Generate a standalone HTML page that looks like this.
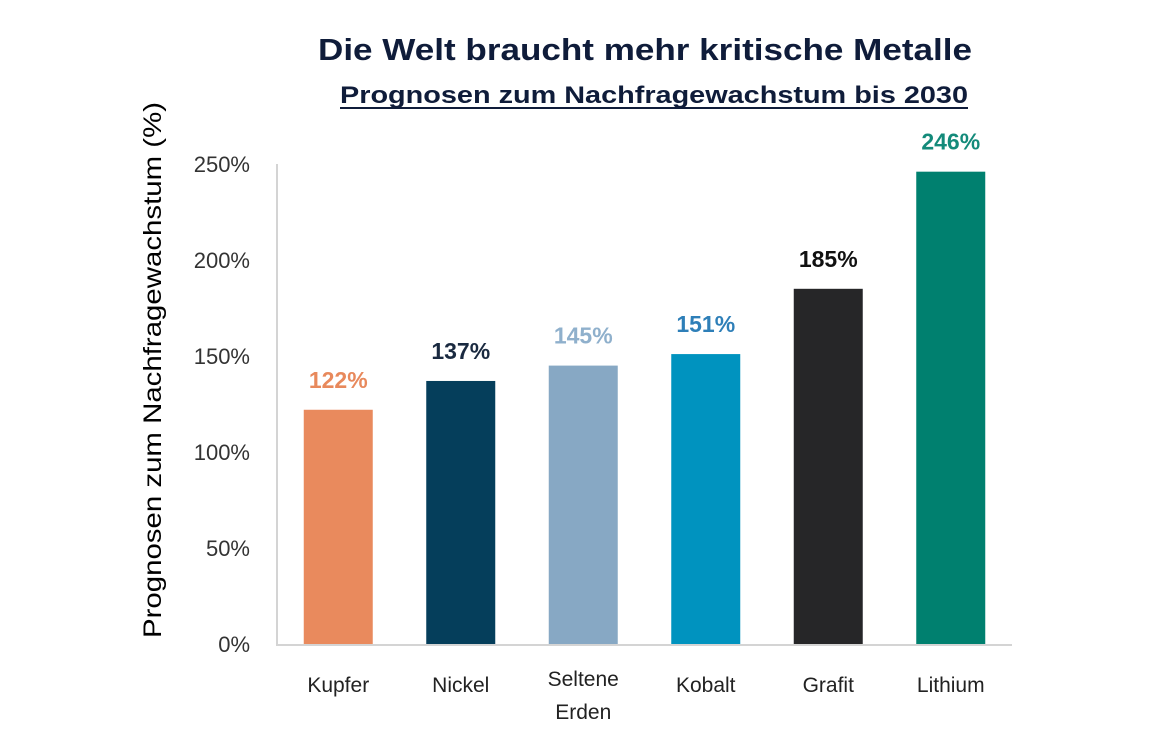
<!DOCTYPE html>
<html><head><meta charset="utf-8"><style>
body{margin:0;background:#fff;}
svg{display:block;font-family:"Liberation Sans",sans-serif;}
</style></head><body>
<svg id="chart" width="1166" height="747" viewBox="0 0 1166 747">
<text x="645" y="60" text-anchor="middle" font-size="31" font-weight="bold" fill="#0f1c3a" textLength="654" lengthAdjust="spacingAndGlyphs">Die Welt braucht mehr kritische Metalle</text>
<text x="654" y="103" text-anchor="middle" font-size="24" font-weight="bold" fill="#0f1c3a" textLength="628" lengthAdjust="spacingAndGlyphs">Prognosen zum Nachfragewachstum bis 2030</text>
<line x1="340" y1="108" x2="968" y2="108" stroke="#0f1c3a" stroke-width="2"/>
<text transform="translate(161,370) rotate(-90)" text-anchor="middle" font-size="25" fill="#000" textLength="536" lengthAdjust="spacingAndGlyphs">Prognosen zum Nachfragewachstum (%)</text>
<g id="yticks"></g>
<line x1="277" y1="164" x2="277" y2="645" stroke="#d4d4d4" stroke-width="2"/>
<line x1="276" y1="645" x2="1012" y2="645" stroke="#d4d4d4" stroke-width="2"/>
<g id="bars"></g>
</svg>
<script>
const categories=["Kupfer","Nickel","Seltene|Erden","Kobalt","Grafit","Lithium"];
const values=[122,137,145,151,185,246];
const valueLabels=["122%","137%","145%","151%","185%","246%"];
const barColors=["#e98a5d","#053e5b","#87a8c4","#0093bf","#262628","#00806f"];
const labelColors=["#e8895c","#1a2a40","#8fb0cc","#2e7fb8","#111111","#138a7a"];
const yTicks=[0,50,100,150,200,250];
const yTickLabels=["0%","50%","100%","150%","200%","250%"];
const NS="http://www.w3.org/2000/svg";
const x0=277,x1=1012,y0=644,yMax=250,yTop=164;
const yScale=v=>y0-(v/yMax)*(y0-yTop);
const band=(x1-x0)/categories.length;
const xCenter=i=>x0+band*(i+0.5);
const barW=69;
function mk(tag,attrs,parent){const e=document.createElementNS(NS,tag);for(const k in attrs)e.setAttribute(k,attrs[k]);parent.appendChild(e);return e;}
const yg=document.getElementById('yticks');
yTicks.forEach((t,i)=>{
  const e=mk('text',{x:250,y:yScale(t)+8,'text-anchor':'end','font-size':22,fill:'#333'},yg);
  
  
  e.textContent=yTickLabels[i];
});
const bg=document.getElementById('bars');
values.forEach((v,i)=>{
  const cx=xCenter(i);
  const r=mk('rect',{x:cx-barW/2,y:yScale(v),width:barW,height:y0-yScale(v),fill:barColors[i]},bg);
  
  
  const l=mk('text',{x:cx,y:yScale(v)-22,'text-anchor':'middle','font-size':23,'font-weight':'bold',fill:labelColors[i]},bg);
  
  
  l.textContent=valueLabels[i];
  const parts=categories[i].split('|');
  const by=parts.length>1?686:692;
  parts.forEach((p,j)=>{
    const c=mk('text',{x:cx,y:by+j*33,'text-anchor':'middle','font-size':21,fill:'#222'},bg);
    
    
    c.textContent=p;
  });
});
</script>
</body></html>
